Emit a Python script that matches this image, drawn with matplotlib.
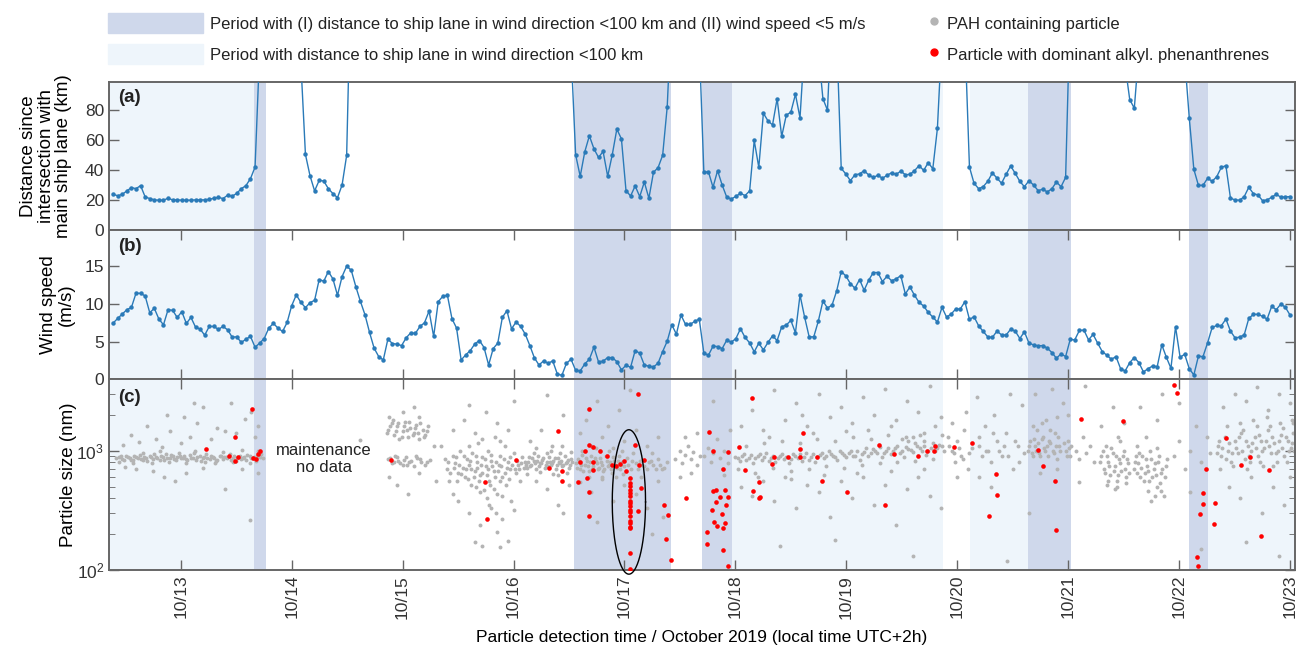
import numpy as np
import matplotlib
matplotlib.use("Agg")
import matplotlib.pyplot as plt
from matplotlib.patches import Patch
from matplotlib.lines import Line2D
from matplotlib.ticker import FixedLocator, LogLocator, NullFormatter

plt.rcParams["font.family"] = ["Liberation Sans", "DejaVu Sans"]

# ---------------- data ----------------
# hourly samples, 10/12 ~09:20 to 10/23 00:00 (day-of-October as float)
dist_km = [
    24.1, 23.2, 24.1, 26.4, 28.6, 27.9, 29.9, 22.4, 21.3, 20.4, 20.2, 20.2, 21.5, 20.4, 20.4, 20.2,
    20.2, 20.2, 20.4, 20.4, 20.4, 20.8, 21.5, 22.1, 21.3, 23.5, 22.8, 24.8, 27.9, 29.9, 34.6, 42.3,
    120, 150, 150, 150, 150, 150, 150, 150, 150, 112,
    50.7, 36.5, 26.4, 33.4, 33.0, 27.9, 24.6, 21.9, 30.3, 50.1,
    180] + [150] * 47 + [120,
    50.5, 36.1, 52.5, 63.1, 54.5, 48.7, 52.7, 36.1, 50.5, 67.6, 61.1, 26.6, 23.0, 29.7, 22.6, 32.3,
    21.5, 38.8, 41.9, 50.1, 82.4,
    150, 150, 150, 150, 150, 150, 125,
    38.8, 39.2, 28.8, 39.9, 30.3, 22.2, 21.0, 22.8, 24.8, 23.3, 26.4, 60.0, 42.1, 78.2, 73.1, 70.4,
    87.9, 62.7, 76.9, 78.9, 90.8, 75.1,
    125, 150, 150, 120, 87.9, 80.2, 150, 130,
    41.4, 37.7, 33.2, 37.2, 37.7, 39.9, 37.0, 35.4, 36.8, 34.8, 36.8, 38.5, 37.4, 39.6, 37.2, 37.4,
    39.9, 43.2, 40.1, 45.2, 41.2, 68.0,
    130, 150, 150, 150, 150, 130,
    42.3, 31.5, 27.9, 29.2, 32.8, 38.3, 35.0, 31.5, 37.4, 43.0, 38.1, 32.8, 29.2, 33.2, 30.3, 26.6,
    27.5, 25.7, 27.9, 32.3, 29.2, 35.4,
    150, 150, 150, 150, 150, 150, 150, 150, 150, 150, 150, 150, 110, 87.3, 81.5, 120,
    150, 150, 150, 150, 150, 150, 150, 150, 150, 115,
    75.1, 40.8, 30.1, 30.1, 34.8, 32.8, 35.9, 42.1, 43.2, 21.5, 20.4, 20.2, 22.6, 28.8, 24.6, 23.7,
    19.9, 20.4, 22.2, 24.1, 22.2, 22.4, 22.6]

wind_ms = [
    7.45, 8.08, 8.66, 9.24, 9.55, 11.43, 11.43, 11.07, 8.84, 9.42, 7.99, 7.23, 9.24, 9.15, 8.21, 8.97,
    7.41, 8.21, 6.92, 6.65, 5.85, 7.01, 7.01, 6.61, 7.01, 6.56, 5.58, 5.62, 4.87, 5.31, 5.67, 4.24,
    4.78, 5.40, 6.79, 7.41, 6.79, 6.34, 7.54, 9.78, 11.20, 10.22, 9.51, 10.18, 10.49, 13.26, 13.04, 14.33,
    13.35, 11.16, 13.66, 15.04, 14.51, 12.32, 10.36, 8.57, 6.21, 4.11, 2.99, 2.54, 5.31, 4.73, 4.64, 4.46,
    5.49, 6.16, 6.07, 7.01, 7.50, 9.06, 5.67, 10.31, 11.03, 11.16, 8.04, 6.79, 2.54, 3.21, 3.79, 4.69,
    5.13, 4.20, 1.87, 4.06, 4.78, 8.21,
    9.11, 6.70, 7.59, 7.01, 5.98, 4.46, 2.81, 1.87, 2.41, 2.10, 2.41, 0.67, 0.49, 2.10, 2.63, 1.16,
    1.07, 2.01, 2.63, 4.24, 2.28, 2.37, 2.86, 2.86, 2.32, 1.21, 1.83, 1.56, 3.79, 3.44, 1.87, 1.70,
    1.61, 2.10, 3.66, 5.04, 7.23, 5.98, 8.53, 7.28, 7.28, 7.68, 7.99, 3.44, 3.17, 4.37, 4.33, 4.06,
    5.18, 4.91, 5.40, 6.70, 5.54, 4.82, 3.62, 4.78, 3.88, 4.87, 5.76, 5.13, 6.96, 7.19, 7.81, 6.16,
    11.20, 8.26, 5.62, 5.62, 7.72, 10.40, 9.46, 9.87, 11.74, 14.33, 13.75, 12.72, 12.10, 13.26, 11.83, 13.17,
    14.20, 14.20, 12.99, 13.70, 13.10, 13.35,
    13.79, 11.34, 12.28, 11.16, 10.22, 9.73, 8.88, 8.26, 7.59, 9.55, 8.26, 8.66, 9.33, 9.33, 10.31, 7.95,
    8.30, 7.10, 6.34, 5.62, 5.54, 6.38, 5.89, 5.85, 6.65, 6.38, 5.40, 6.29, 4.78, 4.55, 4.42, 4.46,
    4.11, 3.53, 2.77, 3.35, 2.99, 5.27, 5.22, 6.47, 6.52, 5.22, 5.94, 4.78, 3.66, 3.17, 2.63, 2.99,
    1.38, 1.07, 2.19, 2.86, 2.19, 0.94, 1.38, 1.74, 1.65, 4.55, 2.90, 1.43, 6.96, 2.90, 3.30, 1.38,
    0.54, 3.04, 2.99, 4.82, 6.87, 7.14, 7.10, 7.99, 6.38, 5.49, 5.58, 5.89, 8.08, 8.62, 8.62, 8.35,
    7.99, 9.69, 9.24, 10.00, 9.55, 8.53]

series_start, series_end = 12.39, 23.0

# shaded periods (day of October)
near_lane = [(12.0, 13.656), (17.973, 19.87), (20.118, 20.635), (22.265, 23.2)]
near_lane_calm = [(13.656, 13.764), (16.543, 17.424), (17.703, 17.973), (20.635, 21.028), (22.09, 22.265)]

# PAH containing particles (day, size nm)
gray_pts = [
    # 10/12 - 10/13
    (12.42, 860), (12.46, 900), (12.49, 840), (12.52, 880), (12.55, 830), (12.58, 910), (12.61, 870),
    (12.64, 850), (12.67, 890), (12.70, 820), (12.73, 880), (12.76, 940), (12.79, 860), (12.82, 900),
    (12.85, 830), (12.88, 870), (12.91, 920), (12.94, 850), (12.97, 880), (13.00, 860), (13.03, 900),
    (13.06, 840), (13.09, 870), (13.12, 950), (13.15, 880), (13.18, 820), (13.21, 890), (13.24, 860),
    (13.27, 910), (13.30, 870), (13.33, 840), (13.36, 900), (13.39, 880), (13.42, 860), (13.45, 830),
    (13.48, 900), (13.51, 870), (13.54, 850), (13.57, 890), (13.60, 920), (13.63, 860), (13.66, 880),
    (13.69, 900), (13.72, 940),
    (12.44, 880), (12.47, 850), (12.51, 910), (12.54, 870), (12.57, 840), (12.60, 890), (12.63, 920),
    (12.66, 840), (12.69, 870), (12.72, 910), (12.75, 850), (12.78, 890), (12.81, 830), (12.84, 880),
    (12.87, 940), (12.90, 860), (12.93, 900), (12.96, 830), (12.99, 910), (13.02, 870), (13.05, 850),
    (13.08, 920), (13.11, 860), (13.14, 830), (13.17, 900), (13.20, 870), (13.23, 930), (13.26, 850),
    (13.29, 880), (13.32, 820), (13.35, 910), (13.38, 850), (13.41, 890), (13.44, 930), (13.47, 860),
    (13.50, 820), (13.53, 900), (13.56, 870), (13.59, 840), (13.62, 900), (13.65, 860), (13.68, 820),
    (13.71, 880), (13.74, 860),
    (12.44, 800), (12.57, 780), (12.66, 960), (12.74, 790), (12.81, 1000), (12.89, 800), (12.98, 960),
    (13.05, 780), (13.13, 1000), (13.22, 800), (13.31, 790), (13.38, 980), (13.47, 800), (13.55, 1010),
    (13.62, 780), (13.70, 1000),
    (12.48, 1120), (12.55, 1350), (12.62, 1180), (12.70, 1600), (12.78, 1250), (12.83, 1080),
    (12.90, 1450), (13.00, 1150), (13.03, 1900), (13.08, 1300), (13.15, 1700), (13.20, 2300),
    (13.27, 1250), (13.33, 1550), (13.40, 1450), (13.45, 2500), (13.50, 1400), (13.58, 1850),
    (13.63, 2100), (13.67, 1300), (13.70, 1600), (12.88, 2000), (13.12, 2500),
    (12.60, 700), (12.75, 680), (12.85, 600), (12.95, 560), (13.05, 650), (13.20, 720), (13.40, 480),
    (13.55, 700), (13.62, 260), (13.70, 650), (12.50, 730), (14.62, 1230),
    # 10/14 night - 10/15
    (14.87, 1500), (14.90, 1700), (14.92, 1350), (14.95, 1600), (14.97, 1250), (15.00, 1450),
    (15.02, 1750), (15.05, 1300), (15.07, 1550), (15.10, 1400), (15.12, 1650), (15.15, 1250),
    (15.18, 1500), (15.20, 1350), (15.23, 1600), (14.88, 1900), (15.00, 2100), (15.10, 2300),
    (15.15, 1900), (14.87, 850), (14.90, 780), (14.93, 900), (14.96, 820), (15.00, 760), (15.03, 880),
    (15.06, 800), (15.10, 740), (15.13, 870), (15.17, 800), (15.20, 760), (15.25, 830), (14.88, 600),
    (14.95, 520), (15.05, 430), (15.15, 650), (15.28, 1100), (15.30, 560),
    (14.86, 1400), (14.89, 1600), (14.91, 1800), (14.94, 1450), (14.96, 1700), (14.99, 1300),
    (15.01, 1600), (15.04, 1500), (15.06, 1750), (15.09, 1350), (15.11, 1550), (15.14, 1400),
    (15.16, 1700), (15.19, 1300), (15.22, 1450), (14.89, 860), (14.92, 800), (14.95, 880), (14.98, 790),
    (15.01, 840), (15.04, 760), (15.08, 820), (15.12, 900), (15.16, 850), (15.22, 800),
    # 10/15 - 10/16
    (15.35, 1100), (15.38, 850), (15.40, 700), (15.42, 560), (15.45, 900), (15.47, 780), (15.50, 650),
    (15.52, 1000), (15.54, 720), (15.56, 600), (15.58, 850), (15.60, 760), (15.62, 520), (15.63, 950),
    (15.65, 680), (15.67, 800), (15.68, 1150), (15.70, 620), (15.72, 880), (15.73, 470), (15.75, 740),
    (15.77, 1000), (15.78, 560), (15.80, 820), (15.82, 680), (15.83, 1300), (15.85, 430), (15.87, 760),
    (15.88, 900), (15.90, 600), (15.92, 1100), (15.93, 520), (15.95, 800), (15.97, 700), (15.98, 380),
    (16.00, 950), (16.02, 650), (16.04, 760), (16.06, 560), (16.08, 880), (15.45, 1500), (15.55, 1800),
    (15.65, 1400), (15.75, 2100), (15.85, 1700), (15.95, 1500), (16.00, 2600), (15.60, 2400),
    (15.50, 380), (15.60, 300), (15.70, 240), (15.72, 160), (15.80, 330), (15.85, 210), (15.90, 270),
    (15.95, 175), (16.00, 320), (15.65, 170), (15.45, 430), (15.88, 155),
    (15.41, 800), (15.43, 650), (15.46, 720), (15.48, 880), (15.49, 560), (15.51, 760), (15.53, 640),
    (15.55, 900), (15.57, 700), (15.59, 580), (15.61, 820), (15.62, 700), (15.64, 600), (15.66, 900),
    (15.67, 720), (15.69, 560), (15.71, 760), (15.72, 650), (15.74, 850), (15.76, 620), (15.77, 700),
    (15.79, 520), (15.80, 920), (15.81, 750), (15.83, 600), (15.84, 800), (15.86, 680), (15.88, 560),
    (15.89, 750), (15.91, 850), (15.92, 650), (15.94, 720), (15.96, 580), (15.97, 880), (15.99, 760),
    (16.01, 700), (16.03, 820), (16.05, 700), (16.07, 780), (16.09, 720), (15.70, 450), (15.76, 400),
    (15.82, 480), (15.90, 420), (15.66, 500), (15.60, 1100), (15.72, 1250), (15.88, 1200), (15.78, 350),
    (15.84, 300),
    (16.10, 800), (16.12, 720), (16.14, 880), (16.16, 760), (16.18, 820), (16.20, 700), (16.22, 900),
    (16.24, 780), (16.26, 840), (16.28, 720), (16.30, 800), (16.32, 880), (16.34, 760), (16.36, 820),
    (16.38, 700), (16.40, 860), (16.42, 780), (16.44, 740), (16.46, 900), (16.48, 800), (16.50, 720),
    (16.52, 850), (16.15, 1200), (16.20, 560), (16.25, 1500), (16.30, 480), (16.35, 1100), (16.40, 620),
    (16.45, 2000), (16.50, 520), (16.40, 350), (16.30, 2900), (16.45, 300),
    (16.11, 760), (16.13, 800), (16.15, 740), (16.17, 860), (16.19, 780), (16.21, 820), (16.23, 740),
    (16.25, 790), (16.27, 860), (16.29, 760), (16.31, 740), (16.33, 800), (16.35, 780), (16.37, 860),
    (16.39, 760), (16.41, 800), (16.43, 820), (16.45, 760), (16.47, 780), (16.49, 840), (16.51, 760),
    (16.53, 800), (16.12, 640), (16.18, 950), (16.24, 660), (16.30, 950), (16.36, 640), (16.42, 960),
    (16.48, 650), (16.52, 980), (16.20, 1050), (16.34, 1000), (16.44, 1100),
    # 10/16 noon - 10/17 night
    (16.56, 780), (16.58, 850), (16.60, 700), (16.62, 920), (16.64, 760), (16.66, 820), (16.68, 680),
    (16.70, 900), (16.72, 750), (16.74, 820), (16.76, 700), (16.78, 860), (16.80, 760), (16.82, 700),
    (16.84, 820), (16.86, 760), (16.88, 700), (16.90, 880), (16.92, 760), (16.94, 820), (16.96, 700),
    (16.98, 800), (17.00, 740), (17.02, 860), (17.06, 700), (17.10, 780), (17.14, 820), (17.18, 740),
    (17.22, 800), (17.26, 760), (17.30, 850), (17.34, 700), (17.38, 800), (16.60, 1400), (16.65, 1800),
    (16.70, 1100), (16.75, 2600), (16.80, 1300), (16.85, 1600), (16.90, 1050), (16.95, 2200),
    (17.00, 1200), (17.05, 3200), (17.10, 1500), (17.20, 1100), (17.30, 1300), (16.60, 550),
    (16.70, 450), (16.80, 600), (16.90, 380), (17.00, 520), (17.10, 430), (17.20, 330), (17.30, 560),
    (17.35, 280), (16.75, 250), (17.25, 200),
    (16.57, 720), (16.59, 800), (16.61, 760), (16.63, 680), (16.65, 860), (16.67, 740), (16.69, 800),
    (16.71, 700), (16.73, 860), (16.75, 780), (16.77, 720), (16.79, 800), (16.81, 680), (16.83, 900),
    (16.85, 740), (16.87, 800), (16.89, 650), (16.91, 820), (16.93, 720), (16.95, 900), (16.97, 760),
    (16.99, 640), (17.03, 760), (17.07, 820), (17.12, 700), (17.16, 760), (17.20, 700), (17.24, 820),
    (17.28, 700), (17.32, 760), (17.36, 720), (16.62, 1000), (16.68, 600), (16.74, 1050), (16.80, 580),
    (16.86, 1000), (16.92, 600), (16.98, 1000), (17.08, 950), (17.15, 600), (17.25, 950),
    (17.46, 850), (17.50, 1000), (17.52, 780), (17.55, 920), (17.57, 1100), (17.60, 850), (17.62, 980),
    (17.65, 760), (17.68, 900), (17.55, 1300), (17.60, 650), (17.50, 600), (17.65, 1400),
    (17.72, 900), (17.75, 1050), (17.78, 800), (17.80, 950), (17.83, 1250), (17.86, 860), (17.90, 1000),
    (17.93, 780), (17.95, 1500), (17.80, 2600), (17.90, 620),
    # 10/18 - 10/20
    (18.00, 880), (18.04, 820), (18.08, 930), (18.12, 860), (18.16, 790), (18.20, 900), (18.24, 840),
    (18.28, 960), (18.32, 870), (18.36, 800), (18.40, 910), (18.44, 850), (18.48, 780), (18.52, 940),
    (18.56, 870), (18.60, 820), (18.64, 960), (18.68, 880), (18.72, 800), (18.76, 920), (18.80, 860),
    (18.84, 990), (18.88, 900), (18.92, 830), (18.96, 950), (19.00, 880), (19.04, 1000), (19.08, 910),
    (19.12, 840), (19.16, 970), (19.20, 900), (19.24, 1030), (19.28, 950), (19.32, 880), (19.36, 1000),
    (19.40, 930), (19.44, 1060), (19.48, 960), (19.52, 890), (19.56, 1040), (19.60, 980), (19.64, 1100),
    (19.68, 1000), (19.72, 920), (19.76, 1060), (19.80, 990), (19.84, 1120), (19.88, 1000),
    (18.02, 700), (18.10, 1100), (18.18, 650), (18.26, 1150), (18.34, 720), (18.42, 1200), (18.50, 680),
    (18.58, 1150), (18.66, 700), (18.74, 1250), (18.82, 750), (18.90, 1200), (18.98, 720), (19.06, 1300),
    (19.14, 760), (19.22, 1250), (19.30, 780), (19.38, 1350), (19.46, 800), (19.54, 1300), (19.62, 820),
    (19.70, 1400), (19.78, 850), (19.86, 1350),
    (18.05, 1600), (18.15, 2200), (18.25, 1500), (18.35, 3200), (18.45, 1800), (18.55, 2500),
    (18.65, 1600), (18.75, 3000), (18.85, 1900), (18.95, 2300), (19.05, 1700), (19.15, 2800),
    (19.25, 2000), (19.35, 3300), (19.45, 1800), (19.55, 2600), (19.65, 2100), (19.75, 3500),
    (19.85, 1900), (18.60, 2000),
    (18.05, 500), (18.15, 420), (18.25, 560), (18.35, 380), (18.45, 600), (18.55, 330), (18.65, 520),
    (18.75, 450), (18.85, 280), (18.95, 560), (19.05, 400), (19.15, 600), (19.25, 350), (19.35, 520),
    (19.45, 240), (19.55, 480), (19.65, 600), (19.75, 420), (19.85, 330), (18.40, 160), (18.90, 180),
    (19.60, 130),
    (18.02, 860), (18.06, 900), (18.10, 840), (18.14, 920), (18.18, 860), (18.22, 940), (18.26, 880),
    (18.30, 820), (18.34, 900), (18.38, 860), (18.42, 930), (18.46, 880), (18.50, 850), (18.54, 900),
    (18.58, 940), (18.62, 880), (18.66, 840), (18.70, 930), (18.74, 880), (18.78, 960), (18.82, 900),
    (18.86, 940), (18.90, 880), (18.94, 1000), (18.98, 920), (19.02, 960), (19.06, 900), (19.10, 1000),
    (19.14, 940), (19.18, 1050), (19.22, 960), (19.26, 1000), (19.30, 1080), (19.34, 950), (19.38, 1050),
    (19.42, 990), (19.46, 1100), (19.50, 1000), (19.54, 1080), (19.58, 1020), (19.62, 1150),
    (19.66, 1050), (19.70, 1100), (19.74, 1000), (19.78, 1150), (19.82, 1050), (19.86, 1100),
    (19.50, 1250), (19.60, 1300), (19.70, 1200), (19.56, 1200), (19.66, 1350), (18.20, 600),
    (18.50, 580), (18.80, 620), (19.10, 650), (19.40, 680), (19.70, 700), (18.30, 1300), (18.70, 1400),
    (19.00, 1450), (19.20, 1500), (19.40, 1600), (19.80, 1600),
    # 10/20 - 10/21
    (19.92, 1300), (19.95, 1000), (19.98, 800), (20.00, 1200), (20.03, 900), (20.06, 1500), (20.10, 700),
    (20.13, 1050), (20.00, 600), (20.08, 2100), (19.95, 1700),
    (19.93, 1100), (19.97, 950), (20.02, 1050), (20.05, 850), (20.11, 950),
    (20.18, 2800), (20.20, 1100), (20.22, 900), (20.25, 1600), (20.28, 1000), (20.30, 800), (20.33, 2000),
    (20.36, 1200), (20.40, 900), (20.44, 1400), (20.48, 3000), (20.50, 700), (20.55, 1100), (20.58, 2400),
    (20.60, 950), (20.30, 500), (20.45, 120), (20.20, 600),
    (20.20, 1300), (20.26, 1000), (20.32, 1400), (20.38, 1000), (20.42, 1100), (20.46, 900), (20.52, 1200),
    (20.56, 800),
    (20.64, 1000), (20.66, 1200), (20.68, 900), (20.70, 1100), (20.72, 1500), (20.74, 950), (20.76, 1250),
    (20.78, 1050), (20.80, 1800), (20.82, 900), (20.84, 1150), (20.86, 1000), (20.88, 1400), (20.90, 850),
    (20.92, 1100), (20.95, 2500), (20.98, 1000), (21.00, 1200), (21.02, 900), (20.70, 3000),
    (20.85, 3300), (21.00, 2000), (20.75, 650), (20.90, 700), (20.65, 300),
    (20.65, 1100), (20.67, 950), (20.69, 1250), (20.71, 1000), (20.73, 1150), (20.75, 900), (20.77, 1300),
    (20.79, 1000), (20.81, 1100), (20.83, 1200), (20.87, 950), (20.89, 1100), (20.91, 1300), (20.93, 1000),
    (20.96, 1150), (20.99, 900), (21.01, 1050), (21.03, 1100), (20.68, 1600), (20.76, 1700),
    (20.84, 1500), (20.90, 1900),
    (21.07, 1000), (21.10, 850), (21.13, 1300), (21.16, 950), (21.20, 1100), (21.23, 800), (21.15, 3500),
    (21.10, 550),
    # 10/21 - 10/22
    (21.30, 900), (21.32, 700), (21.34, 1100), (21.36, 800), (21.38, 620), (21.40, 950), (21.42, 750),
    (21.44, 560), (21.46, 850), (21.48, 680), (21.50, 1000), (21.52, 600), (21.54, 780), (21.35, 520),
    (21.45, 1300), (21.50, 1700), (21.40, 2300), (21.30, 1600), (21.42, 480), (21.47, 1200),
    (21.29, 800), (21.31, 1000), (21.33, 650), (21.35, 900), (21.37, 750), (21.39, 1050), (21.41, 680),
    (21.43, 900), (21.45, 620), (21.47, 780), (21.49, 900), (21.51, 700), (21.53, 850), (21.55, 650),
    (21.36, 560), (21.44, 500), (21.52, 540),
    (21.60, 800), (21.62, 650), (21.64, 950), (21.66, 720), (21.68, 560), (21.70, 850), (21.72, 680),
    (21.74, 1000), (21.76, 600), (21.78, 780), (21.80, 500), (21.82, 900), (21.84, 650), (21.86, 420),
    (21.88, 750), (21.70, 1300), (21.80, 1800), (21.75, 380), (21.85, 3000), (21.65, 2300),
    (21.59, 700), (21.61, 900), (21.63, 780), (21.65, 600), (21.67, 900), (21.69, 650), (21.71, 750),
    (21.73, 560), (21.75, 850), (21.77, 700), (21.79, 620), (21.81, 800), (21.83, 540), (21.85, 700),
    (21.87, 600), (21.89, 850), (21.72, 460), (21.78, 420), (21.84, 460), (21.62, 1100), (21.80, 1050),
    (21.95, 900), (22.00, 1200), (22.05, 700), (22.10, 1000), (22.15, 1600), (22.20, 800), (22.25, 1300),
    (22.00, 2500), (22.10, 450), (22.20, 150), (22.28, 950),
    # 10/22 - 10/23
    (22.35, 1100), (22.38, 900), (22.41, 1300), (22.44, 1000), (22.47, 800), (22.50, 1200), (22.53, 950),
    (22.56, 1400), (22.59, 850), (22.62, 1100), (22.65, 1000), (22.68, 1300), (22.71, 900), (22.74, 1200),
    (22.77, 1050), (22.80, 1500), (22.83, 950), (22.86, 1150), (22.89, 1000), (22.92, 1350), (22.95, 900),
    (22.98, 1200), (23.01, 1050), (23.03, 1400),
    (22.37, 700), (22.43, 1600), (22.49, 750), (22.55, 1700), (22.61, 700), (22.67, 1800), (22.73, 800),
    (22.79, 1900), (22.85, 750), (22.91, 1700), (22.97, 800), (23.02, 1800),
    (22.40, 2300), (22.50, 3000), (22.60, 2600), (22.70, 3400), (22.80, 2200), (22.90, 3000),
    (23.00, 2500), (22.45, 500), (22.55, 400), (22.65, 600), (22.75, 300), (22.85, 500), (22.95, 350),
    (23.00, 600), (22.60, 170), (22.90, 130),
    (22.34, 950), (22.36, 1200), (22.39, 1050), (22.42, 850), (22.45, 1150), (22.48, 950), (22.51, 1050),
    (22.54, 1300), (22.57, 1000), (22.60, 1200), (22.63, 900), (22.66, 1150), (22.69, 1050), (22.72, 1350),
    (22.75, 1000), (22.78, 1200), (22.81, 1100), (22.84, 1300), (22.87, 950), (22.90, 1200), (22.93, 1050),
    (22.96, 1300), (22.99, 1000), (23.02, 1150), (23.04, 1000), (22.58, 1500), (22.70, 1600),
    (22.82, 1600), (22.94, 1550), (23.03, 1700), (22.64, 800), (22.76, 750), (22.88, 800)]
gray_t = [p[0] for p in gray_pts]
gray_d = [p[1] for p in gray_pts]

# particles with dominant alkylated phenanthrenes (day, size nm)
red_t = [13.641, 13.485, 13.230, 13.436, 13.514, 13.488, 13.648, 13.674, 13.693, 13.712, 14.895,
         15.746, 15.764, 16.018, 16.317, 16.398, 16.440, 16.433, 16.577, 16.597, 16.683, 16.645, 16.683,
         16.716, 16.660, 16.683, 16.683, 16.716, 16.720, 16.779, 16.839, 16.884, 16.922, 16.960, 16.993,
         17.014, 17.048, 17.048, 17.048, 17.048, 17.048, 17.048, 17.048, 17.048, 17.048, 17.048, 17.048,
         17.048, 17.048, 17.048, 17.048, 17.048, 17.048, 17.048, 17.093, 17.119, 17.130, 17.148, 17.123,
         17.174, 17.359, 17.392, 17.370, 17.418, 17.551, 17.766, 17.796, 17.796, 17.829, 17.822, 17.789,
         17.859, 17.907, 17.929, 17.914, 17.885, 17.929, 17.878, 17.803, 17.836, 17.885, 17.907, 17.748,
         17.740, 17.889, 17.937, 18.037, 18.152, 18.089, 18.215, 18.163, 18.211, 18.226, 18.330, 18.352,
         18.478, 18.578, 18.578, 18.608, 18.737, 18.782, 19.008, 19.293, 19.349, 19.431, 19.646, 19.727,
         19.787, 19.801, 19.972, 20.131, 20.290, 20.353, 20.357, 20.728, 20.769, 20.880, 20.888, 21.117,
         21.492, 21.955, 21.978, 22.244, 22.214, 22.218, 22.189, 22.163, 22.174, 22.322, 22.315, 22.426,
         22.556, 22.638, 22.815, 22.734]
red_d = [2215, 1294, 1034, 896, 890, 813, 868, 857, 938, 1000, 835,
         546, 265, 835, 715, 1472, 675, 552, 546, 803, 2215, 987, 1123,
         1081, 589, 447, 286, 797, 693, 987, 896, 763, 738, 773, 824,
         670, 589, 536, 501, 470, 440, 413, 375, 364, 341, 319, 305,
         281, 255, 247, 231, 224, 138, 102, 1108, 2954, 763, 486, 313,
         840, 351, 289, 182, 121, 401, 1435, 987, 461, 468, 371, 321,
         406, 468, 406, 351, 706, 975, 296, 250, 235, 224, 247, 207,
         166, 147, 107, 1073, 2773, 693, 546, 455, 401, 408, 773, 885,
         890, 1025, 880, 1408, 885, 552, 451, 1116, 350, 938, 908, 994,
         994, 1102, 1066, 1152, 284, 637, 421, 1006, 743, 556, 217, 1832,
         1764, 3537, 3054, 702, 444, 359, 294, 129, 109, 364, 244, 1269,
         763, 890, 693, 194]

day_ticks = list(range(13, 24))
day_labels = ["10/%d" % d for d in day_ticks]

# ---------------- styling ----------------
C_CALM = "#cfd8eb"
C_LANE = "#eef5fb"
C_LINE = "#2a7ab8"
C_GRAY = "#b4b4b4"
C_RED = "#ff0000"
C_AX = "#666666"
C_TXT = "#333333"
XLIM = (12.353, 23.045)

fig = plt.figure(figsize=(12.96, 6.5), dpi=100)
L, W = 109 / 1296, 1186 / 1296
ax_a = fig.add_axes([L, 1 - 230.5 / 650, W, 148.5 / 650])
ax_b = fig.add_axes([L, 1 - 379 / 650, W, 148.5 / 650])
ax_c = fig.add_axes([L, 1 - 570 / 650, W, 191 / 650])

t = np.linspace(series_start, series_end, len(dist_km))

for ax in (ax_a, ax_b, ax_c):
    for a, b in near_lane:
        ax.axvspan(a, b, color=C_LANE, lw=0, zorder=0)
    for a, b in near_lane_calm:
        ax.axvspan(a, b, color=C_CALM, lw=0, zorder=0)
    ax.set_xlim(*XLIM)
    for s in ax.spines.values():
        s.set_color(C_AX)
        s.set_linewidth(1.4)
    ax.tick_params(direction="in", colors=C_AX, labelcolor=C_TXT, labelsize=12.5,
                   length=7, width=1, right=True, top=True)
    ax.xaxis.set_major_locator(FixedLocator(day_ticks))

ax_a.plot(t, dist_km, color=C_LINE, lw=1, marker="o", ms=2.2, zorder=3)
ax_a.set_ylim(0, 99)
ax_a.set_yticks([0, 20, 40, 60, 80])
ax_a.tick_params(axis="x", length=0, labelbottom=False)
ax_a.set_ylabel("Distance since\nintersection with\nmain ship lane (km)", fontsize=13.5, linespacing=1.05)
ax_a.yaxis.set_label_coords(-0.031, 0.5)

ax_b.plot(t, wind_ms, color=C_LINE, lw=1, marker="o", ms=2.2, zorder=3)
ax_b.set_ylim(0, 19.8)
ax_b.set_yticks([0, 5, 10, 15])
ax_b.tick_params(axis="x", labelbottom=False)
ax_b.set_ylabel("Wind speed\n(m/s)", fontsize=13.5, linespacing=1.05)
ax_b.yaxis.set_label_coords(-0.029, 0.5)

ax_c.set_yscale("log")
ax_c.scatter(gray_t, gray_d, s=8, color=C_GRAY, lw=0, zorder=2)
ax_c.scatter(red_t, red_d, s=11, color=C_RED, lw=0, zorder=3)
ax_c.set_ylim(100, 3980)
ax_c.yaxis.set_major_locator(LogLocator(base=10, numticks=5))
ax_c.yaxis.set_minor_locator(LogLocator(base=10, subs=np.arange(2, 10), numticks=20))
ax_c.yaxis.set_minor_formatter(NullFormatter())
ax_c.tick_params(axis="y", which="minor", direction="in", length=4, colors=C_AX, right=True)
ax_c.set_xticklabels(day_labels, rotation=90)
ax_c.set_ylabel("Particle size (nm)", fontsize=13.5)
ax_c.yaxis.set_label_coords(-0.027, 0.5)
ax_c.set_xlabel("Particle detection time / October 2019 (local time UTC+2h)", fontsize=12.5, labelpad=8)

# ellipse around the vertical stack of red particles
th = np.linspace(0, 2 * np.pi, 200)
ax_c.plot(17.04 + 0.15 * np.cos(th), 10 ** (2.57 + 0.605 * np.sin(th)), color="black", lw=1, zorder=4,
          clip_on=False)

for ax, lab in ((ax_a, "(a)"), (ax_b, "(b)"), (ax_c, "(c)")):
    ax.text(0.008, 0.95, lab, transform=ax.transAxes, fontsize=13.5, fontweight="bold", va="top",
            color="#222222")
ax_c.text(14.29, 850, "maintenance\nno data", ha="center", va="center", fontsize=12, color="#222222")

# legends
h1 = [Patch(color=C_CALM, label="Period with (I) distance to ship lane in wind direction <100 km and (II) wind speed <5 m/s"),
      Patch(color=C_LANE, label="Period with distance to ship lane in wind direction <100 km")]
h2 = [Line2D([], [], ls="", marker="o", ms=5, color=C_GRAY, label="PAH containing particle"),
      Line2D([], [], ls="", marker="o", ms=5, color=C_RED, label="Particle with dominant alkyl. phenanthrenes")]
leg_kw = dict(loc="upper left", frameon=False, fontsize=12, handleheight=1.5, labelspacing=0.65,
              borderpad=0, borderaxespad=0)
lg1 = fig.legend(handles=h1, bbox_to_anchor=(108 / 1296, 1 - 13 / 650), handlelength=5.7,
                 handletextpad=0.45, **leg_kw)
lg2 = fig.legend(handles=h2, bbox_to_anchor=(927 / 1296, 1 - 13 / 650), handlelength=0.8,
                 handletextpad=0.4, **leg_kw)
for lg in (lg1, lg2):
    for tx in lg.get_texts():
        tx.set_color("#222222")

fig.savefig("out.png", dpi=100)
